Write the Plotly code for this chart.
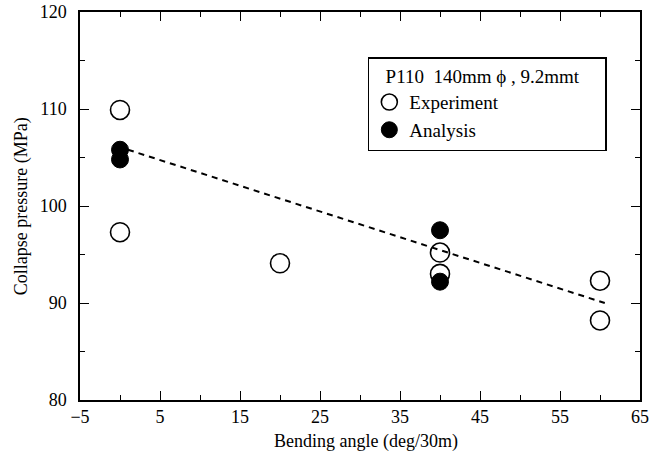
import plotly.graph_objects as go

exp_x = [0, 0, 20, 40, 40, 60, 60]
exp_y = [109.9, 97.3, 94.1, 95.2, 93.0, 92.3, 88.2]
ana_x = [0, 0, 40, 40]
ana_y = [105.8, 104.8, 97.5, 92.2]
trend_x = [1, 60.6]
trend_y = [105.8, 90.0]

legend_title = "\u00a0\u00a0\u00a0P110  140mm \u03d5 , 9.2mmt\u00a0\u00a0\u00a0\u00a0\u00a0"
x_title = "Bending angle (deg/30m)"
y_title = "Collapse pressure (MPa)"

SERIF = "Liberation Serif"

fig = go.Figure()
fig.add_trace(go.Scatter(x=trend_x, y=trend_y, mode="lines",
                         line=dict(color="black", width=2, dash="6px,5px"),
                         showlegend=False, hoverinfo="skip"))
fig.add_trace(go.Scatter(x=ana_x, y=ana_y, mode="markers", name="Analysis",
                         marker=dict(size=17, color="black",
                                     line=dict(color="black", width=1))))
fig.add_trace(go.Scatter(x=exp_x, y=exp_y, mode="markers", name="Experiment",
                         marker=dict(size=19, color="rgba(255,255,255,0)",
                                     line=dict(color="black", width=1.6))))

font = dict(family=SERIF, size=18, color="black")
axis_common = dict(showgrid=False, zeroline=False, showline=True, linecolor="black",
                   linewidth=1.5, mirror="allticks", ticks="inside", ticklen=9,
                   tickwidth=1.2, tickcolor="black", tickfont=font, automargin=False)
fig.update_xaxes(range=[-5, 65], tick0=-5, dtick=10, ticklabelstandoff=0,
                 minor=dict(ticks="inside", ticklen=5, dtick=5, tick0=-5, tickcolor="black"),
                 **axis_common)
fig.update_yaxes(range=[80, 120], dtick=10, ticklabelstandoff=8,
                 minor=dict(ticks="inside", ticklen=5, dtick=5, tickcolor="black"),
                 **axis_common)

fig.add_annotation(text=x_title, xref="paper", yref="paper", x=0.511, y=-0.106,
                   xanchor="center", yanchor="middle", showarrow=False,
                   font=dict(family=SERIF, size=18, color="black"))
fig.add_annotation(text=y_title, xref="paper", yref="paper", x=-0.105, y=0.5,
                   xanchor="center", yanchor="middle", showarrow=False, textangle=-90,
                   font=dict(family=SERIF, size=18, color="black"))

fig.update_layout(
    width=655, height=459,
    margin=dict(l=80, r=15, t=12, b=59),
    paper_bgcolor="white", plot_bgcolor="white",
    font=font,
    legend=dict(x=0.514, y=0.884, xanchor="left", yanchor="top",
                bordercolor="black", borderwidth=1.5, bgcolor="white",
                title=dict(text=legend_title, font=dict(family=SERIF, size=19)),
                traceorder="reversed", tracegroupgap=0,
                font=dict(family=SERIF, size=19),
                itemsizing="trace", itemwidth=30),
)

fig.write_html("out.html", config={"displayModeBar": False},
               post_script="document.body.style.margin='0';")
